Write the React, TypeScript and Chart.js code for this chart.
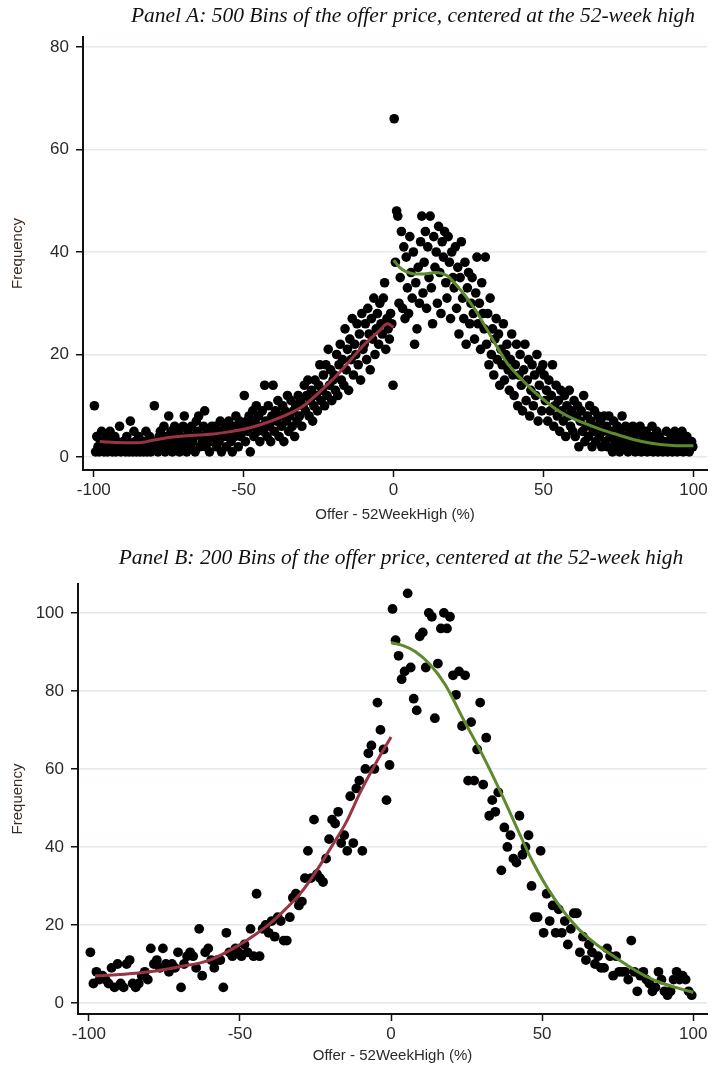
import { useEffect, useRef } from "react";
import { Chart, registerables } from "chart.js";
Chart.register(...registerables);

// ---------- Panel A: 500 bins (width 0.4) from -100 to 100 ----------
const binStartA = -99.8;
const binWidthA = 0.4;
const freqA: number[] = [
  // -100 .. -90
  10,1,4,2,1,3,5,2,1,3,4,1,2,5,3,1,2,4,1,3,2,6,1,2,3,
  // -90 .. -80
  2,1,4,3,1,7,2,1,5,3,1,2,4,1,3,2,1,3,5,1,2,4,1,3,2,
  // -80 .. -70
  10,2,3,1,4,5,2,3,6,1,4,2,8,3,5,1,4,6,2,3,5,1,4,2,6,
  // -70 .. -60
  8,3,1,5,4,2,6,3,4,1,7,5,8,2,4,3,6,9,2,5,4,1,3,6,5,
  // -60 .. -50
  4,6,2,5,3,7,1,5,4,6,2,4,7,5,3,1,6,4,8,5,2,7,4,6,5,
  // -50 .. -40
  12,3,7,5,8,1,6,9,4,7,10,5,8,3,6,9,5,14,7,4,10,6,3,8,14,
  // -40 .. -30
  5,9,7,11,4,8,6,10,3,9,7,12,5,8,11,6,9,4,10,7,12,8,11,6,10,
  // -30 .. -20
  14,9,12,15,8,11,13,7,10,15,12,9,14,18,11,13,16,10,18,12,21,14,17,11,15,
  // -20 .. -10
  16,13,20,12,18,22,15,19,14,25,17,21,13,23,19,27,16,22,20,26,18,24,15,28,21,
  // -10 .. 0
  22,26,19,29,24,17,27,23,31,20,25,28,22,30,26,24,31,34,21,27,25,23,28,26,14,
  // 0 .. 10
  66,38,48,47,30,35,44,29,41,27,39,33,28,43,36,31,40,22,34,25,37,30,42,47,32,
  // 10 .. 20
  38,44,29,41,35,47,33,26,43,37,40,30,45,36,28,42,39,44,34,31,43,38,27,40,35,
  // 20 .. 30
  33,41,29,37,24,35,42,31,27,38,22,33,36,26,30,35,28,23,32,39,26,30,21,34,28,
  // 30 .. 40
  25,39,22,28,18,31,20,25,16,23,27,19,24,14,21,18,26,15,20,22,17,13,19,24,16,
  // 40 .. 50
  12,18,22,10,16,20,14,9,17,22,11,15,19,8,13,18,10,16,12,20,7,14,17,9,18,
  // 50 .. 60
  16,11,13,7,15,9,12,18,6,10,14,8,11,5,13,9,7,12,4,10,8,13,6,9,5,
  // 60 .. 70
  11,4,8,10,2,7,9,5,12,3,6,8,4,10,7,2,5,9,3,6,8,4,7,2,5,
  // 70 .. 80
  8,3,6,2,8,4,5,1,7,3,2,6,4,1,5,8,3,2,6,4,1,3,5,2,6,
  // 80 .. 90
  4,1,3,5,2,6,1,3,4,2,5,1,3,2,4,6,1,3,2,5,1,4,2,3,1,
  // 90 .. 100
  3,2,5,1,3,2,4,1,3,5,2,1,4,3,2,5,1,3,2,4,3,1,2,3,2,
];
const fitALeftX = [-98,-95,-90,-85,-80,-75,-70,-65,-60,-55,-50,-45,-40,-35,-30,-25,-20,-15,-10,-5,-2,0];
const fitALeftY = [3.0,2.9,2.8,2.8,3.3,3.8,4.1,4.3,4.5,4.9,5.4,6.2,7.2,8.4,10.0,12.5,15.3,18.5,21.8,24.5,26.0,25.3];
const fitARightX = [0,2,4,7,10,14,18,21,25,28,31,35,38,42,46,50,53,58,64,70,75,80,86,92,97,100];
const fitARightY = [38.4,37,36.2,35.7,35.7,36.0,35.3,33.5,30.6,28,25,21,18.2,15.6,13.2,11.2,9.8,8.0,6.5,5.2,4.3,3.4,2.7,2.3,2.2,2.2];
const yTicksA = [0, 20, 40, 60, 80];

// ---------- Panel B: 200 bins (width 1) from -100 to 100 ----------
const binStartB = -99.5;
const binWidthB = 1;
const freqB: number[] = [
  13,5,8,6,7,6,5,9,4,10,
  5,4,10,11,5,4,5,7,8,6,
  14,10,11,9,14,10,8,10,9,13,
  4,10,12,13,12,9,19,7,13,14,
  11,9,11,11,4,18,13,12,14,13,
  12,15,13,19,12,28,12,19,20,18,
  21,17,22,21,16,16,22,27,28,25,
  26,32,39,32,47,33,32,31,37,42,
  47,46,49,41,43,39,53,41,55,57,
  39,60,64,66,60,77,70,65,52,61,
  101,93,89,83,85,105,86,78,75,94,
  95,86,100,99,73,87,96,100,96,99,
  84,79,85,71,84,57,72,57,65,77,
  56,68,48,52,49,54,34,45,40,43,
  37,36,48,38,40,43,30,22,22,39,
  18,28,21,25,18,24,18,21,15,19,
  23,23,13,17,11,15,13,10,12,9,
  9,14,12,7,12,8,8,8,6,16,
  8,3,7,8,6,5,3,4,8,6,
  3,2,3,6,8,6,7,6,3,2,
];
const fitBLeftX = [-98,-90,-80,-70,-60,-50,-45,-40,-35,-30,-25,-20,-15,-10,-5,0];
const fitBLeftY = [6.9,7.3,8.0,9.3,11.0,15.0,17.5,20.4,24,28.1,33.5,39.7,46.1,54.3,61.5,68.2];
const fitBRightX = [0,4,8,13,18,24,30,36,41,47,54,62,68,74,80,85,90,95,100];
const fitBRightY = [92.4,91.6,90.1,86.7,81.5,72.6,64,54.5,46,36,26.8,19,15,11.8,8.8,6.6,5.0,3.8,2.7];
const yTicksB = [0, 20, 40, 60, 80, 100];

const xTicks = [-100, -50, 0, 50, 100];
const xTitle = "Offer - 52WeekHigh (%)";
const yTitle = "Frequency";
const titleA = "Panel A: 500 Bins of the offer price, centered at the 52-week high";
const titleB = "Panel B: 200 Bins of the offer price, centered at the 52-week high";

const RED = "#9a3442";
const GREEN = "#5c8a2c";
const GRID = "#e3eaed";
const SANS = "'Liberation Sans', Arial, sans-serif";

type PanelCfg = {
  freq: number[];
  start: number;
  width: number;
  lx: number[]; ly: number[]; rx: number[]; ry: number[];
  yTicks: number[];
  yMin: number; yMax: number;
  xMin: number; xMax: number;
  h: number; top: number; yAxisW: number; xAxisH: number;
  xTitlePad: number; radius: number;
};

function makeChart(canvas: HTMLCanvasElement, c: PanelCfg) {
  const pts = c.freq.map((v, i) => ({ x: c.start + i * c.width, y: v }));
  const left = c.lx.map((x, i) => ({ x, y: c.ly[i] }));
  const right = c.rx.map((x, i) => ({ x, y: c.ry[i] }));
  return new Chart(canvas, {
    type: "scatter",
    data: {
      datasets: [
        { type: "line", data: left, borderColor: RED, borderWidth: 3, pointRadius: 0, cubicInterpolationMode: "monotone", order: 1, fill: false } as any,
        { type: "line", data: right, borderColor: GREEN, borderWidth: 3, pointRadius: 0, cubicInterpolationMode: "monotone", order: 1, fill: false } as any,
        { type: "scatter", data: pts, backgroundColor: "#000", borderColor: "#000", borderWidth: 0, pointRadius: c.radius, order: 2 },
      ],
    },
    options: {
      animation: false,
      responsive: false,
      devicePixelRatio: 1,
      layout: { padding: { top: c.top, left: 0, right: 0, bottom: 0 } },
      plugins: { legend: { display: false }, tooltip: { enabled: false }, title: { display: false } },
      scales: {
        x: {
          type: "linear",
          min: c.xMin,
          max: c.xMax,
          afterBuildTicks: (ax: any) => { ax.ticks = xTicks.map((v) => ({ value: v })); },
          afterFit: (ax: any) => { ax.height = c.xAxisH; },
          grid: { drawOnChartArea: false, drawTicks: true, tickLength: 7, tickColor: "#111", tickWidth: 1.5 },
          border: { display: true, color: "#111", width: 2 },
          ticks: { color: "#2a2a2a", font: { family: SANS, size: 17 }, padding: 3, maxRotation: 0, autoSkip: false },
          title: { display: true, text: xTitle, color: "#2a2a2a", font: { family: SANS, size: 15 }, padding: { top: 0, bottom: c.xTitlePad } },
        },
        y: {
          type: "linear",
          min: c.yMin,
          max: c.yMax,
          afterBuildTicks: (ax: any) => { ax.ticks = c.yTicks.map((v) => ({ value: v })); },
          afterFit: (ax: any) => { ax.width = c.yAxisW; },
          grid: { color: GRID, lineWidth: 1.5, drawTicks: true, tickLength: 7, tickColor: "#111", tickWidth: 1.5 },
          border: { display: true, color: "#111", width: 2 },
          ticks: { color: "#2a2a2a", font: { family: SANS, size: 17 }, padding: 7, autoSkip: false },
          title: { display: true, text: yTitle, color: "#3a2c22", font: { family: SANS, size: 15 }, padding: { top: 9, bottom: 0 } },
        },
      },
    } as any,
  });
}

const cfgA: PanelCfg = {
  freq: freqA, start: binStartA, width: binWidthA,
  lx: fitALeftX, ly: fitALeftY, rx: fitARightX, ry: fitARightY,
  yTicks: yTicksA, yMin: -2.54, yMax: 81.95, xMin: -103.6, xMax: 104.6,
  h: 530, top: 37, yAxisW: 83, xAxisH: 60, xTitlePad: 6, radius: 4.8,
};
const cfgB: PanelCfg = {
  freq: freqB, start: binStartB, width: binWidthB,
  lx: fitBLeftX, ly: fitBLeftY, rx: fitBRightX, ry: fitBRightY,
  yTicks: yTicksB, yMin: -2.82, yMax: 107.4, xMin: -103.6, xMax: 104.6,
  h: 536, top: 54, yAxisW: 78, xAxisH: 52, xTitlePad: 1, radius: 4.9,
};

function Panel({ cfg }: { cfg: PanelCfg }) {
  const ref = useRef<HTMLCanvasElement>(null);
  useEffect(() => {
    if (!ref.current) return;
    const ch = makeChart(ref.current, cfg);
    return () => ch.destroy();
  }, [cfg]);
  return <canvas ref={ref} width={712} height={cfg.h} style={{ display: "block", width: 712, height: cfg.h }} />;
}

const titleStyle = (cx: number, cy: number): any => ({
  position: "absolute",
  left: cx,
  top: cy,
  transform: "translate(-50%, -50%)",
  whiteSpace: "nowrap",
  fontFamily: "'Liberation Serif', 'Times New Roman', serif",
  fontStyle: "italic",
  fontSize: 21.5,
  lineHeight: "26px",
  color: "#111",
});

export default function App() {
  return (
    <div style={{ position: "absolute", left: 0, top: 0, width: 712, height: 1066, background: "#fff", overflow: "hidden" }}>
      <div style={{ position: "absolute", left: 0, top: 0 }}>
        <Panel cfg={cfgA} />
      </div>
      <div style={{ position: "absolute", left: 0, top: 530 }}>
        <Panel cfg={cfgB} />
      </div>
      <div style={titleStyle(413, 15)}>{titleA}</div>
      <div style={titleStyle(401, 557)}>{titleB}</div>
    </div>
  );
}
